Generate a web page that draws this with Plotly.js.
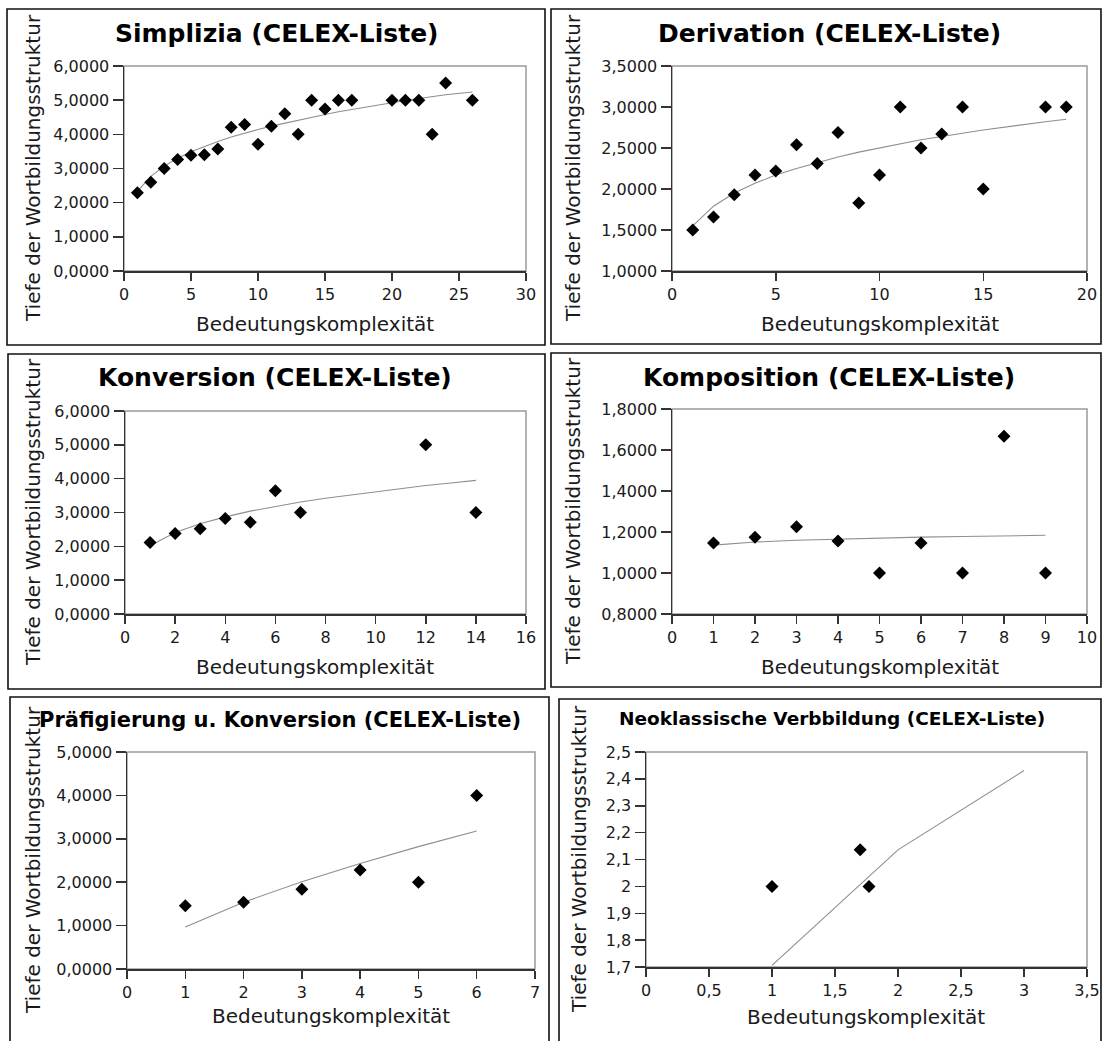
<!DOCTYPE html>
<html>
<head>
<meta charset="utf-8">
<script src="https://cdn.plot.ly/plotly-3.0.1.min.js"></script>
<style>
  html, body { margin: 0; padding: 0; background: #ffffff; }
  #chart { width: 1102px; height: 1041px; }
</style>
</head>
<body>
<div id="chart"></div>
<script>
// Tiefe der Wortbildungsstruktur vs. Bedeutungskomplexität, CELEX-Liste

// Simplizia
const simplX = [1, 2, 3, 4, 5, 6, 7, 8, 9, 10, 11, 12, 13, 14, 15, 16, 17, 20, 21, 22, 23, 24, 26];
const simplY = [2.29, 2.60, 3.00, 3.26, 3.39, 3.40, 3.57, 4.21, 4.29, 3.71, 4.24, 4.60, 4.00, 5.00, 4.74, 5.00, 5.00, 5.00, 5.00, 5.00, 4.00, 5.50, 5.00];
const simplTrend = [2.33, 2.77, 3.07, 3.30, 3.49, 3.65, 3.79, 3.92, 4.04, 4.14, 4.24, 4.33, 4.42, 4.50, 4.58, 4.66, 4.73, 4.93, 4.99, 5.05, 5.11, 5.16, 5.24];

// Derivation
const derivX = [1, 2, 3, 4, 5, 6, 7, 8, 9, 10, 11, 12, 13, 14, 15, 18, 19];
const derivY = [1.50, 1.66, 1.93, 2.17, 2.22, 2.54, 2.31, 2.69, 1.83, 2.17, 3.00, 2.50, 2.67, 3.00, 2.00, 3.00, 3.00];
const derivTrend = [1.55, 1.79, 1.95, 2.07, 2.17, 2.25, 2.32, 2.39, 2.45, 2.50, 2.55, 2.60, 2.64, 2.68, 2.72, 2.82, 2.85];

// Konversion
const konvX = [1, 2, 3, 4, 5, 6, 7, 12, 14];
const konvY = [2.11, 2.38, 2.52, 2.82, 2.71, 3.64, 3.00, 5.00, 3.00];
const konvTrendX = [1, 2, 3, 4, 5, 6, 7, 8, 9, 10, 11, 12, 13, 14];
const konvTrend = [2.02, 2.41, 2.67, 2.87, 3.04, 3.18, 3.31, 3.42, 3.52, 3.61, 3.70, 3.80, 3.87, 3.95];

// Komposition
const kompX = [1, 2, 3, 4, 5, 6, 7, 8, 9];
const kompY = [1.146, 1.174, 1.226, 1.156, 1.000, 1.146, 1.000, 1.667, 1.000];
const kompTrend = [1.136, 1.151, 1.160, 1.166, 1.171, 1.175, 1.178, 1.181, 1.184];

// Präfigierung u. Konversion
const praefX = [1, 2, 3, 4, 5, 6];
const praefY = [1.46, 1.54, 1.84, 2.28, 2.00, 4.00];
const praefTrend = [0.97, 1.54, 2.01, 2.43, 2.82, 3.18];

// Neoklassische Verbbildung
const neoX = [1, 1.70, 1.77];
const neoY = [2.000, 2.136, 2.000];
const neoTrendX = [1, 2, 3];
const neoTrend = [1.706, 2.136, 2.431];

const panelTitles = [
  'Simplizia (CELEX-Liste)',
  'Derivation (CELEX-Liste)',
  'Konversion (CELEX-Liste)',
  'Komposition (CELEX-Liste)',
  'Präfigierung u. Konversion (CELEX-Liste)',
  'Neoklassische Verbbildung (CELEX-Liste)'
];
const xTitle = 'Bedeutungskomplexität';
const yTitle = 'Tiefe der Wortbildungsstruktur';

// ---- page geometry (pixels) ----
const W = 1102, H = 1041;
const px = v => v / W;
const py = v => 1 - v / H;

// plot areas: [left, top, right, bottom]
const plotBoxes = [
  [124, 66, 526, 271],
  [672, 66, 1087, 271],
  [125, 411, 526, 614],
  [672, 409, 1087, 614],
  [127, 752, 535, 969],
  [646, 752, 1087, 967]
];
// outer frames round each chart
const frameBoxes = [
  [7, 9, 545, 345],
  [551, 9, 1101, 344],
  [8, 354, 545, 689],
  [551, 353, 1101, 687],
  [10, 697, 549, 1045],
  [559, 699, 1101, 1045]
];
// [centre x, centre y, font size]
const titlePos = [[277, 33, 25], [829, 33, 25], [275, 378, 25], [829, 377, 25], [280, 720, 21], [832, 718, 18.5]];
const xTitlePos = [[315, 324], [880, 324], [315, 667], [880, 667], [331, 1016], [866, 1017]];
const yTitlePos = [[33, 168], [573, 168], [33, 512], [573, 511], [33, 860], [579, 859]];

const axisRanges = [
  { x: [0, 30], dx: 5, y: [0, 6], dy: 1, fy: '.4f' },
  { x: [0, 20], dx: 5, y: [1, 3.5], dy: 0.5, fy: '.4f' },
  { x: [0, 16], dx: 2, y: [0, 6], dy: 1, fy: '.4f' },
  { x: [0, 10], dx: 1, y: [0.8, 1.8], dy: 0.2, fy: '.4f' },
  { x: [0, 7], dx: 1, y: [0, 5], dy: 1, fy: '.4f' },
  { x: [0, 3.5], dx: 0.5, y: [1.7, 2.5], dy: 0.1, fy: '' }
];

const series = [
  { x: simplX, y: simplY, tx: simplX, ty: simplTrend },
  { x: derivX, y: derivY, tx: derivX, ty: derivTrend },
  { x: konvX, y: konvY, tx: konvTrendX, ty: konvTrend },
  { x: kompX, y: kompY, tx: kompX, ty: kompTrend },
  { x: praefX, y: praefY, tx: praefX, ty: praefTrend },
  { x: neoX, y: neoY, tx: neoTrendX, ty: neoTrend }
];

const FONT = 'DejaVu Sans, Verdana, sans-serif';
const INK = '#1a1a1a';
const AXIS = '#333333';
const FRAME = '#9a9a9a';

const data = [];
const layout = {
  width: W,
  height: H,
  margin: { l: 0, r: 0, t: 0, b: 0, pad: 0 },
  paper_bgcolor: '#ffffff',
  plot_bgcolor: '#ffffff',
  showlegend: false,
  hovermode: false,
  separators: ', ',
  font: { family: FONT, color: INK, size: 16 },
  shapes: [],
  annotations: []
};

series.forEach((s, i) => {
  const n = i + 1;
  const xa = 'x' + (n === 1 ? '' : n);
  const ya = 'y' + (n === 1 ? '' : n);
  const xKey = 'xaxis' + (n === 1 ? '' : n);
  const yKey = 'yaxis' + (n === 1 ? '' : n);
  const b = plotBoxes[i];
  const r = axisRanges[i];

  // trend line
  data.push({
    type: 'scatter', mode: 'lines',
    x: s.tx, y: s.ty, xaxis: xa, yaxis: ya,
    line: { color: '#8e8e8e', width: 1.1 },
    hoverinfo: 'skip'
  });
  // observations
  data.push({
    type: 'scatter', mode: 'markers',
    x: s.x, y: s.y, xaxis: xa, yaxis: ya,
    marker: { symbol: 'diamond', size: 10, color: '#000000', line: { width: 0 } },
    cliponaxis: false
  });

  layout[xKey] = {
    domain: [px(b[0]), px(b[2])],
    anchor: ya,
    range: r.x,
    tick0: 0, dtick: r.dx,
    showgrid: false, zeroline: false,
    showline: true, linecolor: AXIS, linewidth: 1.5,
    ticks: 'outside', ticklen: 8, tickwidth: 1.5, tickcolor: AXIS,
    tickfont: { family: FONT, size: 16, color: INK },
    fixedrange: true
  };
  layout[yKey] = {
    domain: [py(b[3]), py(b[1])],
    anchor: xa,
    range: r.y,
    tick0: r.y[0], dtick: r.dy,
    tickformat: r.fy,
    showgrid: false, zeroline: false,
    showline: true, linecolor: AXIS, linewidth: 1.5,
    ticks: 'outside', ticklen: 10, tickwidth: 1.5, tickcolor: AXIS,
    tickfont: { family: FONT, size: 16, color: INK },
    fixedrange: true
  };

  // light plot-area border (top and right edges show through)
  layout.shapes.push({
    type: 'rect', xref: xa + ' domain', yref: ya + ' domain',
    x0: 0, x1: 1, y0: 0, y1: 1,
    line: { color: FRAME, width: 1.5 }, layer: 'below'
  });
  // chart frame
  const f = frameBoxes[i];
  layout.shapes.push({
    type: 'rect', xref: 'paper', yref: 'paper',
    x0: px(f[0]), x1: px(f[2]), y0: py(f[3]), y1: py(f[1]),
    line: { color: '#111111', width: 1.6 }, layer: 'above'
  });

  // chart title
  const t = titlePos[i];
  layout.annotations.push({
    text: panelTitles[i], xref: 'paper', yref: 'paper',
    x: px(t[0]), y: py(t[1]), xanchor: 'center', yanchor: 'middle',
    showarrow: false,
    font: { family: FONT, size: t[2], color: '#000000', weight: 'bold' }
  });
  // axis titles
  const xt = xTitlePos[i];
  layout.annotations.push({
    text: xTitle, xref: 'paper', yref: 'paper',
    x: px(xt[0]), y: py(xt[1]), xanchor: 'center', yanchor: 'middle',
    showarrow: false, font: { family: FONT, size: 20, color: INK }
  });
  const yt = yTitlePos[i];
  layout.annotations.push({
    text: yTitle, xref: 'paper', yref: 'paper',
    x: px(yt[0]), y: py(yt[1]), xanchor: 'center', yanchor: 'middle',
    textangle: -90,
    showarrow: false, font: { family: FONT, size: 20, color: INK }
  });
});

Plotly.newPlot('chart', data, layout, { staticPlot: true, displayModeBar: false });
</script>
</body>
</html>
